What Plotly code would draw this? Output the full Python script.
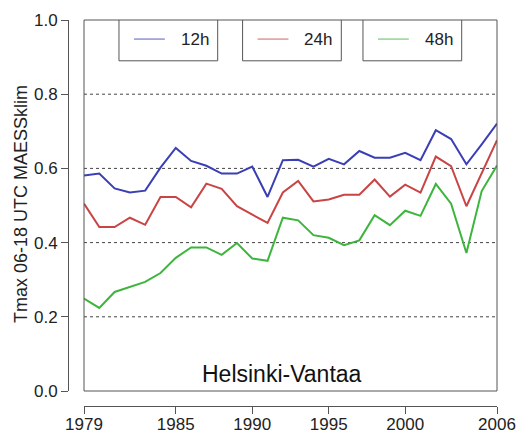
import plotly.graph_objects as go

years = list(range(1979, 2007))
v12 = [0.581, 0.586, 0.546, 0.535, 0.540, 0.602, 0.655, 0.620, 0.607, 0.586,
       0.586, 0.605, 0.523, 0.622, 0.623, 0.605, 0.626, 0.611, 0.647, 0.629,
       0.629, 0.642, 0.622, 0.703, 0.679, 0.611, 0.665, 0.721]
v24 = [0.505, 0.442, 0.442, 0.467, 0.448, 0.523, 0.523, 0.495, 0.559, 0.545,
       0.498, 0.476, 0.453, 0.535, 0.566, 0.511, 0.516, 0.529, 0.529, 0.570,
       0.524, 0.556, 0.535, 0.632, 0.606, 0.498, 0.588, 0.676]
v48 = [0.249, 0.224, 0.267, 0.280, 0.294, 0.318, 0.359, 0.387, 0.387, 0.367,
       0.399, 0.357, 0.351, 0.467, 0.460, 0.420, 0.413, 0.393, 0.406, 0.474,
       0.447, 0.486, 0.472, 0.558, 0.505, 0.372, 0.539, 0.608]
series_names = ["12h", "24h", "48h"]
series_values = [v12, v24, v48]
colors = ["#3a3fb5", "#c94444", "#3db53d"]
x_ticks = [1979, 1985, 1990, 1995, 2000, 2006]
y_ticks = [0.0, 0.2, 0.4, 0.6, 0.8, 1.0]
grid_vals = [0.2, 0.4, 0.6, 0.8]
station = "Helsinki-Vantaa"
ytitle = "Tmax 06-18 UTC MAESSklim"

FONT = "Liberation Sans, Arial, sans-serif"
W, H = 516, 434
ml, mr, mt, mb = 40, 19, 20, 20
pw = W - ml - mr
ph = H - mt - mb
x_left_px, yaxis_px = 84, 68
y_bottom_px, xaxis_px = 391, 406

fig = go.Figure()
for name, vals, c in zip(series_names, series_values, colors):
    fig.add_trace(go.Scatter(x=years, y=vals, mode="lines", name=name,
                             line=dict(color=c, width=2), showlegend=False))

axis_common = dict(showgrid=False, zeroline=False, showline=True, automargin=False,
                   ticklabeloverflow="allow",
                   linecolor="#555", linewidth=1, ticks="outside", ticklen=7,
                   tickcolor="#555", tickfont=dict(family=FONT, size=17, color="#222"))

fig.update_layout(
    width=W, height=H, margin=dict(l=ml, r=mr, t=mt, b=mb, autoexpand=False),
    showlegend=False,
    paper_bgcolor="white", plot_bgcolor="white",
    xaxis=dict(range=[1979, 2006], domain=[(x_left_px - ml) / pw, 1],
               anchor="free", position=(H - mb - xaxis_px) / ph, ticklabelstandoff=-4,
               tickvals=x_ticks, ticktext=[str(t) for t in x_ticks], **axis_common),
    yaxis=dict(range=[0, 1], domain=[(H - mb - y_bottom_px) / ph, 1],
               anchor="free", position=(yaxis_px - ml) / pw,
               tickvals=y_ticks, ticktext=[f"{t:.1f}" for t in y_ticks], **axis_common),
)

shapes = []
shapes.append(dict(type="rect", xref="x domain", yref="y domain", x0=0, x1=1, y0=0, y1=1,
                   line=dict(color="#555", width=1), layer="above"))
for g in grid_vals:
    shapes.append(dict(type="line", xref="x domain", yref="y", x0=0, x1=1, y0=g, y1=g,
                       line=dict(color="#444", width=1, dash="dot"), layer="below"))

box_starts = [0.0847, 0.384, 0.6755]
box_w = 0.239
box_bottom = 0.89
annotations = []
for name, c, bx in zip(series_names, colors, box_starts):
    shapes.append(dict(type="rect", xref="x domain", yref="y", x0=bx, x1=bx + box_w,
                       y0=box_bottom, y1=1.0, line=dict(color="#555", width=1),
                       fillcolor="white", layer="above"))
    shapes.append(dict(type="line", xref="x domain", yref="y", x0=bx + 0.0363, x1=bx + 0.111,
                       y0=0.9486, y1=0.9486, line=dict(color=c, width=1.2), opacity=0.7,
                       layer="above"))
    annotations.append(dict(xref="x domain", yref="y", x=bx + 0.145, y=0.9486,
                            text=name, showarrow=False, xanchor="left", yanchor="middle",
                            font=dict(family=FONT, size=17, color="#222")))

annotations.append(dict(xref="x domain", yref="y", x=0.479, y=(391 - 374) / 370,
                        text=station, showarrow=False, xanchor="center", yanchor="middle",
                        font=dict(family=FONT, size=23, color="#111")))
annotations.append(dict(xref="paper", yref="paper", x=(21 - ml) / pw,
                        y=(H - mb - 204) / ph,
                        text=ytitle, showarrow=False, textangle=-90,
                        xanchor="center", yanchor="middle",
                        font=dict(family=FONT, size=18, color="#222")))

fig.update_layout(shapes=shapes, annotations=annotations)
# remove the page body's default 8px margin so the 516x434 figure fills the window
fig.write_html("out.html", config={"displayModeBar": False},
               post_script="document.body.style.margin='0px';")
